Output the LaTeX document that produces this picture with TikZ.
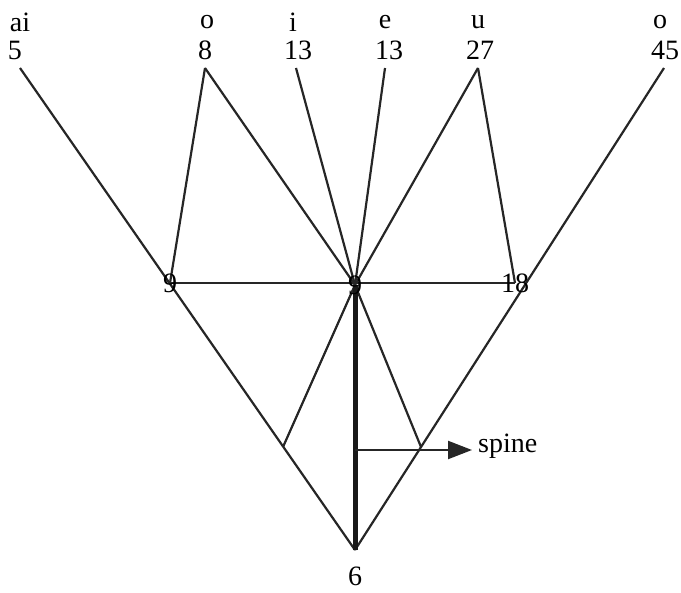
\documentclass[tikz,border=0pt]{standalone}
\usepackage{fontspec}
\setmainfont{Liberation Serif}
\usetikzlibrary{arrows.meta}
\begin{document}
\begin{tikzpicture}[x=1pt,y=-1pt,
  lbl/.style={font=\fontsize{28}{30}\selectfont, inner sep=0pt},
  thinline/.style={line width=2.2pt, black!85},
  spineline/.style={line width=5pt, black!90},
  arrowline/.style={line width=2.2pt, black!85, -{Triangle[length=24pt,width=18pt]}}]
\useasboundingbox (0,0) rectangle (681,593);
% vowel labels
\node[lbl] (vai) at (20,22) {ai};
\node[lbl] (vo1) at (207,22) {o};
\node[lbl] (vi) at (293,22) {i};
\node[lbl] (ve) at (385,22) {e};
\node[lbl] (vu) at (478,22) {u};
\node[lbl] (vo2) at (660,22) {o};
% numbers
\node[lbl] (n5) at (15,50) {5};
\node[lbl] (n8) at (205,50) {8};
\node[lbl] (n13a) at (298,50) {13};
\node[lbl] (n13b) at (389,50) {13};
\node[lbl] (n27) at (480,50) {27};
\node[lbl] (n45) at (665,50) {45};
% line end points
\coordinate (t5) at (20,68);
\coordinate (t8) at (205,68);
\coordinate (t13a) at (296,68);
\coordinate (t13b) at (385,68);
\coordinate (t27) at (478,68);
\coordinate (t45) at (664,68);
\coordinate (p9) at (170,283);
\coordinate (pc) at (355,285);
\coordinate (p18) at (515,283);
\coordinate (apex) at (355,550);
\coordinate (pl) at (283,447);
\coordinate (pr) at (421,447);
\coordinate (sp) at (355,450);
\coordinate (arrEnd) at (472,450);
% lines
\draw[thinline] (t5) -- (apex);
\draw[thinline] (t45) -- (apex);
\draw[thinline] (t8) -- (p9);
\draw[thinline] (t8) -- (pc);
\draw[thinline] (t13a) -- (pc);
\draw[thinline] (t13b) -- (pc);
\draw[thinline] (t27) -- (pc);
\draw[thinline] (t27) -- (p18);
\draw[thinline] (p9) -- (p18);
\draw[thinline] (pc) -- (pl);
\draw[thinline] (pc) -- (pr);
\draw[spineline] (pc) -- (apex);
\draw[arrowline] (sp) -- (arrEnd);
% junction labels
\node[lbl] (l9) at (p9) {9};
\node[lbl] (lc) at (pc) {9};
\node[lbl] (l18) at (p18) {18};
\node[lbl] (l6) at (355,576) {6};
\node[lbl, anchor=west] (lspine) at (478,446) {spine};
\end{tikzpicture}
\end{document}
